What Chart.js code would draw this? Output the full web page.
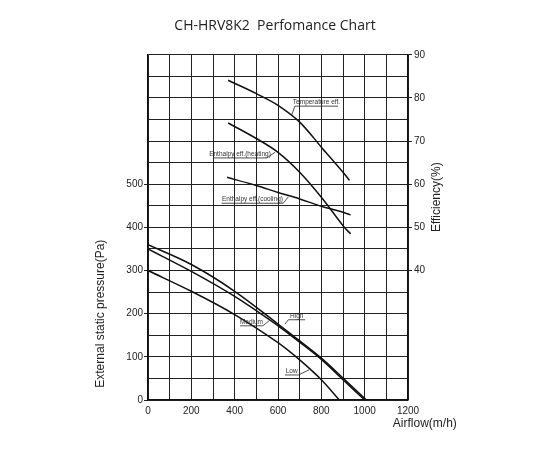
<!DOCTYPE html>
<html>
<head>
<meta charset="utf-8">
<script src="https://cdn.jsdelivr.net/npm/chart.js@4.4.1/dist/chart.umd.min.js"></script>
<style>
  html, body { margin: 0; padding: 0; background: #fff; }
  #wrap { width: 550px; height: 450px; }
</style>
</head>
<body>
<div id="wrap"><canvas id="perfChart" width="550" height="450"></canvas></div>
<script>
// Static pressure curves (airflow m3/h -> Pa)
const airflowHigh   = [0, 200, 400, 600, 700, 800, 900, 1008];
const pressureHigh  = [360, 314, 252, 176, 137, 97, 51, 0];
const airflowMed    = [0, 200, 400, 600, 700, 800, 900, 1000];
const pressureMed   = [350, 298, 240, 172, 134, 94, 47, 0];
const airflowLow    = [0, 200, 400, 600, 700, 800, 883];
const pressureLow   = [300, 252, 198, 133, 93, 47, 0];

// Efficiency curves (airflow m3/h -> %)
const airflowTemp   = [370, 500, 600, 700, 800, 900, 930];
const effTemp       = [84.1, 81, 78.3, 74.4, 68.6, 62.8, 60.9];
const airflowHeat   = [370, 500, 600, 700, 800, 900, 935];
const effHeat       = [74.2, 70.6, 67.4, 62.8, 57, 50.4, 48.5];
const airflowCool   = [365, 500, 600, 700, 800, 900, 935];
const effCool       = [61.6, 59.7, 58.1, 56.6, 54.9, 53.5, 52.9];

// Ticks
const xLabelStep = 200;
const pressureLabelMax = 500;
const effLabelMin = 40;

// Curve name tags: point on curve -> elbow -> end of underline (data units)
const curveNotes = [
  { text: 'Temperature eff.',       axis: 'y1', from: [663, 76.0], elbow: [678, 78.1], to: 877 },
  { text: 'Enthalpy eff.(heating)', axis: 'y1', from: [586, 67.4], elbow: [548, 66.1], to: 301 },
  { text: 'Enthalpy eff.(cooling)', axis: 'y1', from: [648, 57.1], elbow: [624, 55.6], to: 340 },
  { text: 'Medium', axis: 'y', from: [560, 184], elbow: [530, 172], to: 425 },
  { text: 'High',   axis: 'y', from: [632, 176], elbow: [648, 186], to: 725 },
  { text: 'Low',    axis: 'y', from: [744, 70],  elbow: [694, 58],  to: 632 }
];

const pts = (xs, ys) => xs.map((x, i) => ({ x, y: ys[i] }));

function curve(label, xs, ys, axis) {
  return {
    label,
    data: pts(xs, ys),
    yAxisID: axis,
    borderColor: '#111',
    borderWidth: 1.5,
    pointRadius: 0,
    fill: false,
    tension: 0.35
  };
}

const notesPlugin = {
  id: 'notes',
  afterDraw(chart) {
    const { ctx, scales } = chart;
    const x = scales.x;
    ctx.save();
    ctx.strokeStyle = '#222';
    ctx.lineWidth = 0.8;
    ctx.fillStyle = '#333';
    ctx.font = '6.5px "Liberation Sans", Arial, sans-serif';
    ctx.textAlign = 'center';
    ctx.textBaseline = 'alphabetic';
    curveNotes.forEach(n => {
      const y = scales[n.axis];
      const fx = x.getPixelForValue(n.from[0]), fy = y.getPixelForValue(n.from[1]);
      const ex = x.getPixelForValue(n.elbow[0]), ey = y.getPixelForValue(n.elbow[1]);
      const tx = x.getPixelForValue(n.to);
      ctx.beginPath();
      ctx.moveTo(fx, fy);
      ctx.lineTo(ex, ey);
      ctx.lineTo(tx, ey);
      ctx.stroke();
      ctx.fillText(n.text, (ex + tx) / 2, ey - 2);
    });

    // axis titles
    ctx.fillStyle = '#222';
    ctx.font = '12px "Liberation Sans", Arial, sans-serif';
    ctx.textBaseline = 'middle';

    ctx.save();
    ctx.translate(101, scales.y.getPixelForValue(200));
    ctx.rotate(-Math.PI / 2);
    ctx.fillText('External static pressure(Pa)', 0, 0);
    ctx.restore();

    ctx.save();
    ctx.translate(437, scales.y1.getPixelForValue(57));
    ctx.rotate(-Math.PI / 2);
    ctx.fillText('Efficiency(%)', 0, 0);
    ctx.restore();

    ctx.textAlign = 'left';
    ctx.fillText('Airflow(m/h)', x.getPixelForValue(1130), 424);
    ctx.restore();
  }
};

new Chart(document.getElementById('perfChart'), {
  type: 'line',
  data: {
    datasets: [
      curve('High', airflowHigh, pressureHigh, 'y'),
      curve('Medium', airflowMed, pressureMed, 'y'),
      curve('Low', airflowLow, pressureLow, 'y'),
      curve('Temperature eff.', airflowTemp, effTemp, 'y1'),
      curve('Enthalpy eff.(heating)', airflowHeat, effHeat, 'y1'),
      curve('Enthalpy eff.(cooling)', airflowCool, effCool, 'y1')
    ]
  },
  options: {
    responsive: false,
    animation: false,
    layout: { padding: 0 },
    plugins: {
      legend: { display: false },
      tooltip: { enabled: false },
      title: {
        display: true,
        text: 'CH-HRV8K2  Perfomance Chart',
        color: '#222',
        font: { family: '"Open Sans", Arial, sans-serif', size: 14, weight: 'normal' },
        padding: { top: 18, bottom: 20 }
      }
    },
    scales: {
      x: {
        type: 'linear',
        min: 0,
        max: 1200,
        afterFit: s => { s.height = 50; },
        ticks: {
          stepSize: 100,
          padding: 5,
          maxRotation: 0,
          minRotation: 0,
          autoSkip: false,
          color: '#222',
          font: { family: '"Liberation Sans", Arial, sans-serif', size: 10 },
          callback: v => (v % xLabelStep === 0 ? v : '')
        },
        grid: { color: '#222', lineWidth: 1, drawTicks: false },
        border: { color: '#111', width: 1.3 }
      },
      y: {
        position: 'left',
        min: 0,
        max: 800,
        afterFit: s => { s.width = 148; },
        ticks: {
          stepSize: 50,
          padding: 1,
          autoSkip: false,
          color: '#222',
          font: { family: '"Liberation Sans", Arial, sans-serif', size: 10 },
          callback: v => (v % 100 === 0 && v <= pressureLabelMax ? v : '')
        },
        grid: {
          color: '#222',
          lineWidth: 1,
          tickLength: 4,
          tickColor: c => (c.tick && c.tick.value % 100 === 0 && c.tick.value <= pressureLabelMax ? '#222' : 'rgba(0,0,0,0)')
        },
        border: { color: '#111', width: 1.3 }
      },
      y1: {
        position: 'right',
        min: 10,
        max: 90,
        afterFit: s => { s.width = 142; },
        ticks: {
          stepSize: 5,
          padding: 2,
          autoSkip: false,
          color: '#222',
          font: { family: '"Liberation Sans", Arial, sans-serif', size: 10 },
          callback: v => (v % 10 === 0 && v >= effLabelMin ? v : '')
        },
        grid: {
          drawOnChartArea: false,
          tickLength: 4,
          tickColor: c => (c.tick && c.tick.value % 10 === 0 && c.tick.value >= effLabelMin ? '#222' : 'rgba(0,0,0,0)')
        },
        border: { color: '#111', width: 1.3 }
      }
    }
  },
  plugins: [notesPlugin]
});
</script>
</body>
</html>
